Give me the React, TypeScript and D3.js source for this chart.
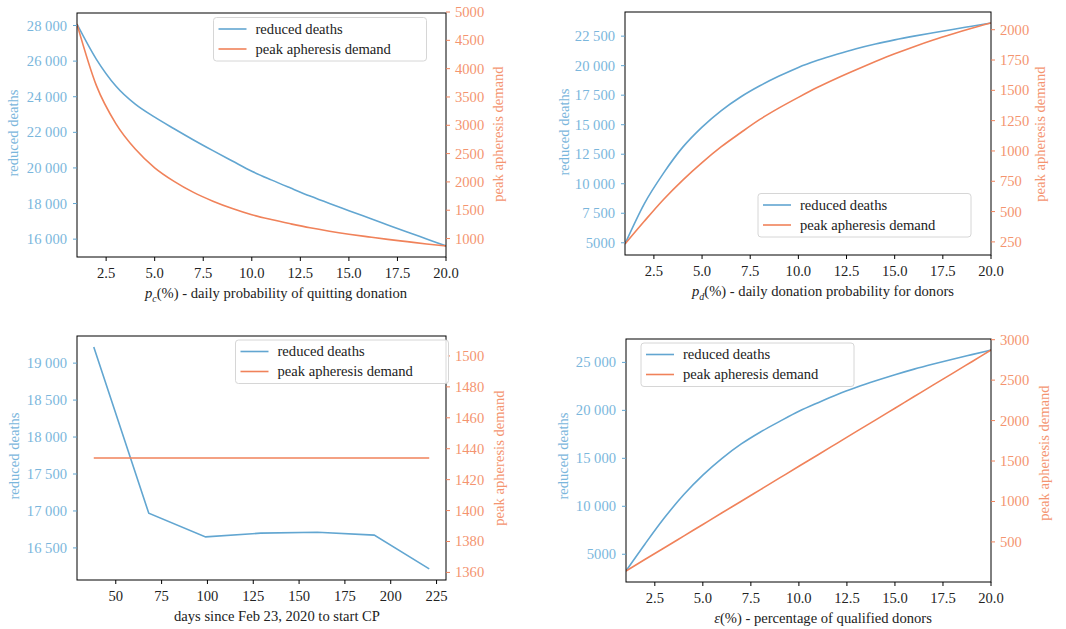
import React from 'react';
import * as d3 from 'd3';

// ---------- data ----------
const pct = [1, 2, 3, 4, 5, 6, 7, 8, 9, 10, 11, 12, 13, 14, 15, 16, 17, 18, 19, 20];

const quitDeaths = [28080, 26100, 24600, 23580, 22850, 22200, 21570, 20970, 20390, 19816, 19330, 18870, 18420, 18000, 17600, 17200, 16800, 16400, 16010, 15620];
const quitDemand = [4787, 3700, 3030, 2580, 2250, 2010, 1815, 1660, 1530, 1420, 1335, 1260, 1190, 1130, 1077, 1030, 985, 945, 905, 870];

const donDeaths = [4900, 8300, 10900, 13100, 14800, 16200, 17350, 18300, 19120, 19854, 20450, 20970, 21440, 21840, 22187, 22500, 22790, 23070, 23340, 23610];
const donDemand = [233, 420, 600, 760, 904, 1035, 1150, 1260, 1355, 1442, 1525, 1600, 1670, 1737, 1801, 1860, 1915, 1965, 2012, 2055];

const startDays = [38, 68, 99, 129, 160, 191, 221];
const startDeaths = [19217, 16969, 16649, 16700, 16712, 16673, 16216];
const startDemand = [1434, 1434, 1434, 1434, 1434, 1434, 1434];

const qualDeaths = [3260, 6100, 8800, 11200, 13250, 15000, 16500, 17750, 18850, 19900, 20800, 21650, 22400, 23080, 23713, 24300, 24830, 25330, 25810, 26287];
const qualDemand = [141, 285, 428, 572, 716, 860, 1003, 1147, 1291, 1435, 1578, 1722, 1866, 2009, 2153, 2297, 2441, 2584, 2728, 2872];

const pctTicks = [2.5, 5, 7.5, 10, 12.5, 15, 17.5, 20];
const pctTickLabels = ['2.5', '5.0', '7.5', '10.0', '12.5', '15.0', '17.5', '20.0'];
const dayTicks = [50, 75, 100, 125, 150, 175, 200, 225];
const dayTickLabels = ['50', '75', '100', '125', '150', '175', '200', '225'];

const p1LeftTicks = [16000, 18000, 20000, 22000, 24000, 26000, 28000];
const p1LeftLabels = ['16 000', '18 000', '20 000', '22 000', '24 000', '26 000', '28 000'];
const p1RightTicks = [1000, 1500, 2000, 2500, 3000, 3500, 4000, 4500, 5000];
const p1RightLabels = ['1000', '1500', '2000', '2500', '3000', '3500', '4000', '4500', '5000'];

const p2LeftTicks = [5000, 7500, 10000, 12500, 15000, 17500, 20000, 22500];
const p2LeftLabels = ['5000', '7 500', '10 000', '12 500', '15 000', '17 500', '20 000', '22 500'];
const p2RightTicks = [250, 500, 750, 1000, 1250, 1500, 1750, 2000];
const p2RightLabels = ['250', '500', '750', '1000', '1250', '1500', '1750', '2000'];

const p3LeftTicks = [16500, 17000, 17500, 18000, 18500, 19000];
const p3LeftLabels = ['16 500', '17 000', '17 500', '18 000', '18 500', '19 000'];
const p3RightTicks = [1360, 1380, 1400, 1420, 1440, 1460, 1480, 1500];
const p3RightLabels = ['1360', '1380', '1400', '1420', '1440', '1460', '1480', '1500'];

const p4LeftTicks = [5000, 10000, 15000, 20000, 25000];
const p4LeftLabels = ['5000', '10 000', '15 000', '20 000', '25 000'];
const p4RightTicks = [500, 1000, 1500, 2000, 2500, 3000];
const p4RightLabels = ['500', '1000', '1500', '2000', '2500', '3000'];

// ---------- style ----------
const BLUE = '#62a6d1';
const BLUE_TXT = '#7ab6dc';
const ORANGE = '#f0825a';
const ORANGE_TXT = '#f4946f';
const FONT = 'Liberation Serif, DejaVu Serif, serif';
const FS = 14.6;
const T = { fontFamily: FONT };

function padDomain(vals: number[]): [number, number] {
  const [mn, mx] = d3.extent(vals) as [number, number];
  const p = (mx - mn) * 0.05;
  return [mn - p, mx + p];
}

type PanelProps = {
  box: { l: number; r: number; t: number; b: number };
  xs: number[];
  y1: number[];
  y2: number[];
  xDomain: [number, number];
  y2Domain?: [number, number];
  xTicks: number[];
  xTickLabels: string[];
  lTicks: number[];
  lLabels: string[];
  rTicks: number[];
  rLabels: string[];
  legend: { x: number; y: number };
  xlabel: React.ReactNode;
  xlabelX: number;
  lLabelX: number;
  lLabelY: number;
  rLabelX: number;
  rLabelY: number;
};

function Panel(p: PanelProps) {
  const { l, r, t, b } = p.box;
  const x = d3.scaleLinear().domain(p.xDomain).range([l, r]);
  const yl = d3.scaleLinear().domain(padDomain(p.y1)).range([b, t]);
  const yr = d3.scaleLinear().domain(p.y2Domain ?? padDomain(p.y2)).range([b, t]);
  const lineL = d3.line<number>().x((_, i) => x(p.xs[i])).y((d) => yl(d)).curve(d3.curveMonotoneX);
  const lineR = d3.line<number>().x((_, i) => x(p.xs[i])).y((d) => yr(d)).curve(d3.curveMonotoneX);
  const lineLin = d3.line<number>().x((_, i) => x(p.xs[i])).y((d) => yl(d));
  const TL = 4;
  const isDays = p.xs.length < 10;
  return (
    <g>
      <defs>
        <clipPath id={`clip-${l}-${t}`}>
          <rect x={l} y={t} width={r - l} height={b - t} />
        </clipPath>
      </defs>
      <g clipPath={`url(#clip-${l}-${t})`}>
        <path d={(isDays ? lineLin(p.y1) : lineL(p.y1)) ?? ''} fill="none" stroke={BLUE} strokeWidth={1.6} />
        <path d={lineR(p.y2) ?? ''} fill="none" stroke={ORANGE} strokeWidth={1.6} />
      </g>
      <rect x={l} y={t} width={r - l} height={b - t} fill="none" stroke="#000" strokeWidth={1} />
      {p.xTicks.map((v, i) => (
        <g key={'x' + i}>
          <line x1={x(v)} x2={x(v)} y1={b} y2={b + TL} stroke="#000" strokeWidth={1} />
          <text style={T} x={x(v)} y={b + 21} textAnchor="middle" fontSize={FS} fill="#222">
            {p.xTickLabels[i]}
          </text>
        </g>
      ))}
      {p.lTicks.map((v, i) => (
        <g key={'l' + i}>
          <line x1={l - TL} x2={l} y1={yl(v)} y2={yl(v)} stroke={BLUE} strokeWidth={1} />
          <text style={T} x={l - 10} y={yl(v) + 5} textAnchor="end" fontSize={FS} fill={BLUE_TXT}>
            {p.lLabels[i]}
          </text>
        </g>
      ))}
      {p.rTicks.map((v, i) => (
        <g key={'r' + i}>
          <line x1={r} x2={r + TL} y1={yr(v)} y2={yr(v)} stroke={ORANGE} strokeWidth={1} />
          <text style={T} x={r + 9} y={yr(v) + 5} textAnchor="start" fontSize={FS} fill={ORANGE_TXT}>
            {p.rLabels[i]}
          </text>
        </g>
      ))}
      <text style={T} x={p.xlabelX} y={b + 41} textAnchor="middle" fontSize={FS} fill="#222">
        {p.xlabel}
      </text>
      <text
        style={T}
        transform={`translate(${p.lLabelX},${p.lLabelY}) rotate(-90)`}
        textAnchor="middle"
        fontSize={FS}
        fill={BLUE_TXT}
      >
        reduced deaths
      </text>
      <text
        style={T}
        transform={`translate(${p.rLabelX},${p.rLabelY}) rotate(-90)`}
        textAnchor="middle"
        fontSize={FS}
        fill={ORANGE_TXT}
      >
        peak apheresis demand
      </text>
      <g transform={`translate(${p.legend.x},${p.legend.y})`}>
        <rect x={0} y={0} width={213} height={43.5} rx={3} fill="#fff" fillOpacity={0.85} stroke="#d6d6d6" strokeWidth={1} />
        <line x1={5} x2={33} y1={11.5} y2={11.5} stroke={BLUE} strokeWidth={1.6} />
        <line x1={5} x2={33} y1={31.5} y2={31.5} stroke={ORANGE} strokeWidth={1.6} />
        <text style={T} x={42} y={16} fontSize={FS} fill="#222">reduced deaths</text>
        <text style={T} x={42} y={36} fontSize={FS} fill="#222">peak apheresis demand</text>
      </g>
    </g>
  );
}

export default function App() {
  return (
    <svg
      width={1066}
      height={629}
      style={{ position: 'absolute', left: 0, top: 0, background: '#fff', fontFamily: FONT }}
    >
      <Panel
        box={{ l: 77, r: 446, t: 13, b: 257 }}
        xs={pct}
        y1={quitDeaths}
        y2={quitDemand}
        xDomain={[1, 20]}
        xTicks={pctTicks}
        xTickLabels={pctTickLabels}
        lTicks={p1LeftTicks}
        lLabels={p1LeftLabels}
        rTicks={p1RightTicks}
        rLabels={p1RightLabels}
        legend={{ x: 213.5, y: 17.5 }}
        xlabel={
          <>
            <tspan fontStyle="italic">p</tspan>
            <tspan fontSize={10} fontStyle="italic" dy={4}>c</tspan>
            <tspan dy={-4}>(%) - daily probability of quitting donation</tspan>
          </>
        }
        xlabelX={276}
        lLabelX={18}
        lLabelY={133}
        rLabelX={503}
        rLabelY={134}
      />
      <Panel
        box={{ l: 625, r: 991, t: 12, b: 255 }}
        xs={pct}
        y1={donDeaths}
        y2={donDemand}
        xDomain={[1, 20]}
        xTicks={pctTicks}
        xTickLabels={pctTickLabels}
        lTicks={p2LeftTicks}
        lLabels={p2LeftLabels}
        rTicks={p2RightTicks}
        rLabels={p2RightLabels}
        legend={{ x: 758, y: 193.5 }}
        xlabel={
          <>
            <tspan fontStyle="italic">p</tspan>
            <tspan fontSize={10} fontStyle="italic" dy={4}>d</tspan>
            <tspan dy={-4}>(%) - daily donation probability for donors</tspan>
          </>
        }
        xlabelX={823}
        lLabelX={569}
        lLabelY={132}
        rLabelX={1045}
        rLabelY={134}
      />
      <Panel
        box={{ l: 77, r: 446, t: 336, b: 580 }}
        xs={startDays}
        y1={startDeaths}
        y2={startDemand}
        xDomain={[28.85, 230.15]}
        y2Domain={[1355.1, 1512.9]}
        xTicks={dayTicks}
        xTickLabels={dayTickLabels}
        lTicks={p3LeftTicks}
        lLabels={p3LeftLabels}
        rTicks={p3RightTicks}
        rLabels={p3RightLabels}
        legend={{ x: 235.5, y: 340 }}
        xlabel={<>days since Feb 23, 2020 to start CP</>}
        xlabelX={277}
        lLabelX={19}
        lLabelY={456}
        rLabelX={504}
        rLabelY={458}
      />
      <Panel
        box={{ l: 626, r: 991, t: 339, b: 582 }}
        xs={pct}
        y1={qualDeaths}
        y2={qualDemand}
        xDomain={[1, 20]}
        xTicks={pctTicks}
        xTickLabels={pctTickLabels}
        lTicks={p4LeftTicks}
        lLabels={p4LeftLabels}
        rTicks={p4RightTicks}
        rLabels={p4RightLabels}
        legend={{ x: 641, y: 343 }}
        xlabel={
          <>
            <tspan fontStyle="italic">ε</tspan>
            <tspan>(%) - percentage of qualified donors</tspan>
          </>
        }
        xlabelX={823}
        lLabelX={568}
        lLabelY={456}
        rLabelX={1049}
        rLabelY={453}
      />
    </svg>
  );
}
